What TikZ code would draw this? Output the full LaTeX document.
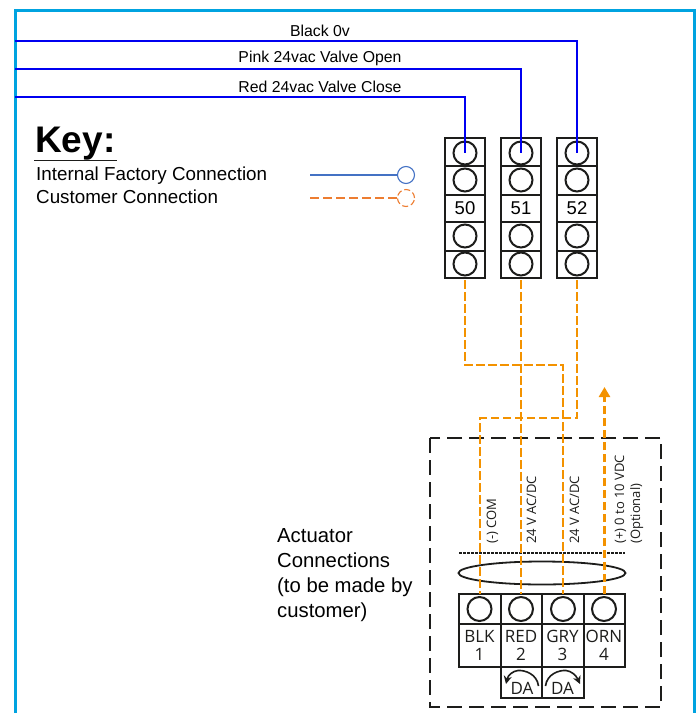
\documentclass[tikz,border=0pt]{standalone}
\usepackage{fontspec}
\setmainfont{Liberation Sans}
\newfontfamily\opensans{Open Sans}
\usetikzlibrary{arrows.meta,shapes.geometric}
\definecolor{framecol}{HTML}{00A3E0}
\definecolor{wireblue}{HTML}{0000F0}
\definecolor{wireorange}{HTML}{F39200}
\definecolor{keyblue}{HTML}{4472C4}
\definecolor{keyorange}{HTML}{ED7D31}
\definecolor{inkcol}{HTML}{1D1D1B}
\tikzset{
  x=1pt,y=-1pt,
  termbox/.style={draw=inkcol,line width=2.4pt,fill=white,minimum width=40pt,inner sep=0pt,outer sep=0pt,font=\fontsize{18.5}{18.5}\selectfont},
  cellbox/.style={draw=inkcol,line width=1.9pt,fill=white,minimum width=41.5pt,inner sep=0pt,outer sep=0pt},
  hole/.style={circle,draw=inkcol,line width=2pt,inner sep=0pt,outer sep=0pt,minimum size=23pt,fill=white},
  bluewire/.style={draw=wireblue,line width=2.3pt},
  orangewire/.style={draw=wireorange,line width=2.4pt,dash pattern=on 8.5pt off 3.5pt},
  wirelabel/.style={anchor=base,inner sep=0pt,font=\fontsize{15.8}{15.8}\selectfont},
  keytext/.style={anchor=base west,inner sep=0pt,font=\fontsize{18.8}{18.8}\selectfont},
  sidelabel/.style={anchor=base west,rotate=90,inner sep=0pt,text=inkcol,font=\opensans\fontsize{13}{13}\selectfont},
  celltext/.style={align=center,inner sep=0pt,text=inkcol,font=\opensans\fontsize{17}{18}\selectfont},
}
\begin{document}
\begin{tikzpicture}
\useasboundingbox (0,0) rectangle (699,713);
% outer frame
\draw[framecol,line width=3pt] (15,713) -- (15,10) -- (694,10) -- (694,713);
% wire start coordinates
\coordinate (b0) at (15,41);
\coordinate (p0) at (15,69);
\coordinate (r0) at (15,97);
% terminal blocks
\foreach \nm/\xc/\lab in {a/465/50,b/521/51,c/577/52}{
  \node[termbox,minimum height=28pt] (\nm1) at (\xc,152) {};
  \node[termbox,minimum height=29pt] (\nm2) at (\xc,180.5) {};
  \node[termbox,minimum height=27pt] (\nm3) at (\xc,208.5) {\lab};
  \node[termbox,minimum height=29pt] (\nm4) at (\xc,236.5) {};
  \node[termbox,minimum height=27pt] (\nm5) at (\xc,264.5) {};
  \node[hole] (h\nm1) at (\xc,153) {};
  \node[hole] (h\nm2) at (\xc,180) {};
  \node[hole] (h\nm4) at (\xc,236) {};
  \node[hole] (h\nm5) at (\xc,264) {};
}
% blue wires
\draw[bluewire] (b0) -| (hc1.center);
\draw[bluewire] (p0) -| (hb1.center);
\draw[bluewire] (r0) -| (ha1.center);
\node[wirelabel] (tb) at (320,36) {Black 0v};
\node[wirelabel] (tp) at (320,62.5) {Pink 24vac Valve Open};
\node[wirelabel] (tr) at (320,92) {Red 24vac Valve Close};
% key
\node[anchor=base west,inner sep=0pt,font=\bfseries\fontsize{37}{37}\selectfont] (keyt) at (35,152) {Key:};
\draw[inkcol,line width=1pt] (34,160.5) -- (117,160.5);
\node[keytext] (k1) at (36,180) {Internal Factory Connection};
\node[keytext] (k2) at (36,203) {Customer Connection};
\node[circle,draw=keyblue,line width=1.1pt,minimum size=17pt,inner sep=0pt,outer sep=0pt] (kc1) at (406,175) {};
\coordinate (kl1) at (310,175);
\draw[keyblue,line width=1.1pt] (kl1) -- (kc1);
\node[circle,draw=keyorange,line width=1.1pt,dash pattern=on 6pt off 3pt,minimum size=17pt,inner sep=0pt,outer sep=0pt] (kc2) at (406,198) {};
\coordinate (kl2) at (310,198);
\draw[keyorange,line width=1.1pt,dash pattern=on 9pt off 4pt] (kl2) -- (kc2);
% actuator dashed box
\draw[inkcol,line width=2pt,dash pattern=on 15pt off 7pt] (430,438) rectangle (661,707);
% actuator connector
\node[cellbox,minimum height=30pt] (c1) at (480,609) {};
\node[cellbox,minimum height=30pt] (c2) at (521.5,609) {};
\node[cellbox,minimum height=30pt] (c3) at (563,609) {};
\node[cellbox,minimum height=30pt] (c4) at (604.5,609) {};
\node[hole,minimum size=24pt] (p1) at (479.5,609) {};
\node[hole,minimum size=24pt] (p2) at (521,609) {};
\node[hole,minimum size=24pt] (p3) at (563,609) {};
\node[hole,minimum size=24pt] (p4) at (604,609) {};
\node[cellbox,minimum height=43pt] (l1) at (480,645.5) {};
\node[cellbox,minimum height=43pt] (l2) at (521.5,645.5) {};
\node[cellbox,minimum height=43pt] (l3) at (563,645.5) {};
\node[cellbox,minimum height=43pt] (l4) at (604.5,645.5) {};
\node[celltext] (t1) at (479.5,645) {BLK\\1};
\node[celltext] (t2) at (521,645) {RED\\2};
\node[celltext] (t3) at (562.5,645) {GRY\\3};
\node[celltext] (t4) at (604,645) {ORN\\4};
\node[cellbox,minimum height=31pt] (d1) at (521.5,682.5) {};
\node[cellbox,minimum height=31pt] (d2) at (563,682.5) {};
\node[celltext] (dt1) at (522,688) {DA};
\node[celltext] (dt2) at (562.5,688) {DA};
\draw[inkcol,line width=1.6pt,-{Stealth[length=8pt,width=8pt]}] (538.5,686) .. controls (537,674) and (525,670) .. (518,670.5) .. controls (513,671) and (508,675) .. (506,684);
\draw[inkcol,line width=1.6pt,-{Stealth[length=8pt,width=8pt]}] (545.5,686) .. controls (547,674) and (559,670) .. (566,670.5) .. controls (571,671) and (576,675) .. (580,684);
% cable marks
\draw[inkcol,line width=2pt,dash pattern=on 3pt off 1pt] (459,552.5) -- (625,552.5);
\node[draw=inkcol,line width=1.8pt,ellipse,minimum width=167pt,minimum height=23pt,inner sep=0pt] (el) at (542,573) {};
% customer wires
\coordinate (ca) at (465,280);
\coordinate (cb) at (521,280);
\coordinate (cc) at (577,280);
\draw[orangewire] (ca) -- (465,365) -- (563,365) -- (c3.north);
\draw[orangewire] (cb) -- (cb |- c2.north);
\draw[orangewire] (cc) -- (577,418) -- (480,418) -- (c1.north);
\coordinate (arrowend) at (604.5,387);
\draw[orangewire,-{Triangle[length=10pt,width=11pt]}] (c4.north) -- (arrowend);
% rotated labels
\node[sidelabel] (s1) at (496,544) {(-) COM};
\node[sidelabel] (s2) at (536,544) {24 V AC/DC};
\node[sidelabel] (s3) at (579,544) {24 V AC/DC};
\node[sidelabel] (s4) at (624,544) {(+) 0 to 10 VDC};
\node[sidelabel] (s5) at (640,544) {(Optional)};
% actuator text
\node[anchor=base west,align=left,inner sep=0pt,font=\fontsize{20.3}{25}\selectfont] (act) at (277,617) {Actuator\\Connections\\(to be made by\\customer)};
\end{tikzpicture}
\end{document}
